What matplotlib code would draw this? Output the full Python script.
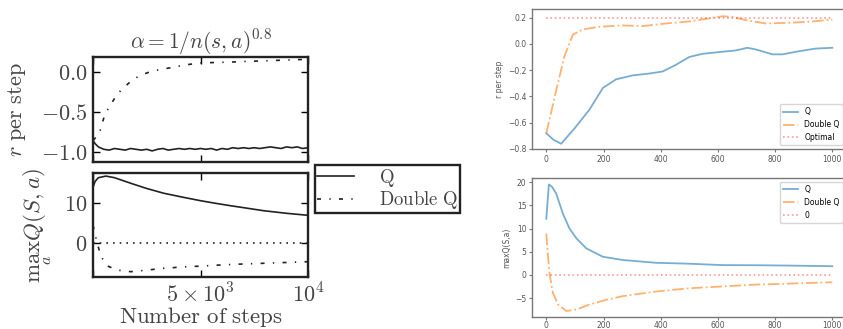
import matplotlib
matplotlib.use("Agg")
import matplotlib.pyplot as plt
from matplotlib.lines import Line2D

plt.rcParams['mathtext.fontset'] = 'cm'

# ---------------- data: left panel (x = number of steps) ----------------
lt_q_x = [0, 100, 250, 500, 750, 1000, 1250, 1500, 1750, 2000, 2250, 2500, 2750, 3000,
          3250, 3500, 3750, 4000, 4250, 4500, 4750, 5000, 5250, 5500, 5750, 6000, 6250,
          6500, 6750, 7000, 7250, 7500, 7750, 8000, 8250, 8500, 8750, 9000, 9250, 9500,
          9750, 10000]
lt_q_y = [-0.86, -0.90, -0.94, -0.97, -0.98, -0.96, -0.97, -0.98, -0.96, -0.97, -0.98,
          -0.97, -0.99, -0.97, -0.96, -0.98, -0.97, -0.96, -0.97, -0.96, -0.97, -0.96,
          -0.97, -0.96, -0.98, -0.96, -0.97, -0.95, -0.96, -0.95, -0.96, -0.95, -0.96,
          -0.95, -0.94, -0.95, -0.96, -0.94, -0.95, -0.94, -0.96, -0.95]
lt_dq_x = [0, 100, 290, 525, 750, 990, 1300, 1760, 2100, 2530, 3000, 3610, 4300, 5000,
           5700, 6390, 7200, 7920, 8900, 10000]
lt_dq_y = [-0.86, -0.83, -0.775, -0.557, -0.44, -0.34, -0.23, -0.12, -0.06, -0.013, 0.02,
           0.05, 0.085, 0.11, 0.115, 0.12, 0.13, 0.135, 0.145, 0.155]

lb_q_x = [0, 100, 250, 600, 1000, 1760, 2500, 3300, 4200, 5000, 5700, 6390, 7200, 7930,
          9000, 10000]
lb_q_y = [14.0, 15.5, 16.4, 16.8, 16.4, 15.0, 13.7, 12.5, 11.5, 10.65, 10.0, 9.4, 8.75,
          8.15, 7.5, 7.0]
lb_dq_x = [0, 150, 370, 680, 1140, 1760, 2500, 3290, 4200, 5000, 6000, 6850, 8700, 10000]
lb_dq_y = [4.5, 1.0, -3.3, -5.7, -6.7, -7.1, -6.7, -6.25, -5.9, -5.7, -5.4, -5.2, -4.85,
           -4.6]
lb_zero_x = [0, 10000]
lb_zero_y = [0, 0]

left_labels = [r'$\mathrm{Q}$', r'$\mathrm{Double\ Q}$']
left_xticks = [0, 5000, 10000]
left_xticklabels = ['', r'$5\times10^3$', r'$10^4$']

# ---------------- data: right panel (x = episode) ----------------
rt_q_x = [0, 25, 52, 100, 151, 198, 244, 302, 360, 407, 453, 500, 546, 616, 663, 703, 733,
          791, 826, 884, 942, 1000]
rt_q_y = [-0.68, -0.73, -0.76, -0.64, -0.50, -0.335, -0.27, -0.24, -0.226, -0.21, -0.16,
          -0.10, -0.076, -0.06, -0.05, -0.03, -0.043, -0.08, -0.08, -0.056, -0.036, -0.03]
rt_dq_x = [0, 35, 64, 93, 128, 186, 267, 337, 419, 500, 558, 616, 651, 698, 767, 849, 930,
           1000]
rt_dq_y = [-0.68, -0.35, -0.09, 0.07, 0.11, 0.13, 0.14, 0.135, 0.155, 0.17, 0.19, 0.21,
           0.205, 0.18, 0.155, 0.16, 0.17, 0.185]
rt_opt_x = [0, 1000]
rt_opt_y = [0.2, 0.2]

rb_q_x = [0, 9, 20, 35, 58, 81, 105, 140, 198, 267, 384, 500, 616, 733, 849, 1000]
rb_q_y = [12.1, 19.5, 19.0, 17.5, 13.2, 10.0, 7.9, 5.7, 3.9, 3.2, 2.6, 2.4, 2.1, 2.07, 2.0,
          1.86]
rb_dq_x = [0, 6, 12, 23, 41, 70, 105, 151, 209, 267, 384, 500, 616, 733, 849, 1000]
rb_dq_y = [8.9, 3.9, 0, -3.9, -6.4, -7.8, -7.5, -6.4, -5.4, -4.6, -3.6, -2.9, -2.5, -2.1,
           -1.9, -1.6]
rb_zero_x = [0, 1000]
rb_zero_y = [0, 0]

right_top_labels = ['Q', 'Double Q', 'Optimal']
right_bot_labels = ['Q', 'Double Q', '0']
right_xticks = [0, 200, 400, 600, 800, 1000]

# ---------------- figure ----------------
W, H = 843, 329
fig = plt.figure(figsize=(W / 100, H / 100), dpi=100)

def frac(x0, y0, x1, y1):
    return [x0 / W, 1 - y1 / H, (x1 - x0) / W, (y1 - y0) / H]

ax_lt = fig.add_axes(frac(93, 57.3, 308, 161.7))
ax_lb = fig.add_axes(frac(93, 173.3, 308, 277.3))
ax_rt = fig.add_axes(frac(532, 9, 846.6, 149))
ax_rb = fig.add_axes(frac(532, 178, 846.6, 317))

dashdot = (0, (2.4, 5.0, 0.8, 5.0))
dotted = (0, (1, 3))
LW = 1.2
TXT = '#444444'

# left top
ax_lt.plot(lt_q_x, lt_q_y, color='#222222', lw=LW)
ax_lt.plot(lt_dq_x, lt_dq_y, color='#222222', lw=LW, linestyle=dashdot)
ax_lt.set_xlim(0, 10000)
ax_lt.set_ylim(-1.125, 0.18)
ax_lt.set_yticks([0.0, -0.5, -1.0])
ax_lt.set_yticklabels([r'$0.0$', r'$-0.5$', r'$-1.0$'])
ax_lt.set_xticks(left_xticks)
ax_lt.set_xticklabels([])
ax_lt.set_title(r'$\alpha = 1/n(s,a)^{0.8}$', fontsize=15.5, pad=4, color=TXT)
ax_lt.set_ylabel(r'$r\ \mathrm{per\ step}$', fontsize=16, color=TXT)
ax_lt.yaxis.set_label_coords(-0.30, 0.5)

# left bottom
ax_lb.plot(lb_q_x, lb_q_y, color='#222222', lw=LW)
ax_lb.plot(lb_dq_x, lb_dq_y, color='#222222', lw=LW, linestyle=dashdot)
ax_lb.plot(lb_zero_x, lb_zero_y, color='#222222', lw=LW, linestyle=dotted)
ax_lb.set_xlim(0, 10000)
ax_lb.set_ylim(-8.5, 17.5)
ax_lb.set_yticks([0, 10])
ax_lb.set_yticklabels([r'$0$', r'$10$'])
ax_lb.set_xticks(left_xticks)
ax_lb.set_xticklabels(left_xticklabels)
ax_lb.set_xlabel(r'$\mathrm{Number\ of\ steps}$', fontsize=16.5, color=TXT, labelpad=-1)
ax_lb.set_ylabel(r'$\max_a Q(S,a)$', fontsize=16.5, color=TXT)
ax_lb.yaxis.set_label_coords(-0.18, 0.5)

for ax in (ax_lt, ax_lb):
    for s in ax.spines.values():
        s.set_linewidth(1.7)
        s.set_color('#222222')
    ax.tick_params(direction='in', top=True, right=True, length=5, width=1,
                   labelsize=16, labelcolor=TXT, pad=4)

handles = [Line2D([], [], color='#222222', lw=LW),
           Line2D([], [], color='#222222', lw=LW, linestyle=dashdot)]
leg = fig.legend(handles, left_labels, loc='upper left',
                 bbox_to_anchor=(315 / W, 1 - 165 / H), fontsize=13.5,
                 fancybox=False, framealpha=1, edgecolor='#222222',
                 handlelength=2.0, handletextpad=1.3, borderpad=0.1,
                 labelspacing=0.02, borderaxespad=0)
leg.get_frame().set_linewidth(1.7)
for t in leg.get_texts():
    t.set_color(TXT)

# right top
ax_rt.plot(rt_q_x, rt_q_y, color='#1f77b4', lw=1.3, alpha=0.6, label=right_top_labels[0])
ax_rt.plot(rt_dq_x, rt_dq_y, color='#ff7f0e', lw=1.3, alpha=0.6, linestyle='-.',
           label=right_top_labels[1])
ax_rt.plot(rt_opt_x, rt_opt_y, color='red', lw=1.2, alpha=0.4, linestyle=':',
           label=right_top_labels[2])
ax_rt.set_xlim(-50, 1050)
ax_rt.set_ylim(-0.8, 0.265)
ax_rt.set_yticks([-0.8, -0.6, -0.4, -0.2, 0.0, 0.2])
ax_rt.set_xticks(right_xticks)
ax_rt.set_ylabel('r per step', fontsize=5.5, color='#555555', labelpad=3)
ax_rt.legend(loc='lower right', fontsize=5.5)

# right bottom
ax_rb.plot(rb_q_x, rb_q_y, color='#1f77b4', lw=1.3, alpha=0.6, label=right_bot_labels[0])
ax_rb.plot(rb_dq_x, rb_dq_y, color='#ff7f0e', lw=1.3, alpha=0.6, linestyle='-.',
           label=right_bot_labels[1])
ax_rb.plot(rb_zero_x, rb_zero_y, color='red', lw=1.2, alpha=0.4, linestyle=':',
           label=right_bot_labels[2])
ax_rb.set_xlim(-50, 1050)
ax_rb.set_ylim(-9.1, 20.9)
ax_rb.set_yticks([-5, 0, 5, 10, 15, 20])
ax_rb.set_xticks(right_xticks)
ax_rb.set_ylabel('maxQ(S,a)', fontsize=5.5, color='#555555', labelpad=3)
ax_rb.legend(loc='upper right', fontsize=5.5)

for ax in (ax_rt, ax_rb):
    for s in ax.spines.values():
        s.set_linewidth(1.0)
        s.set_color('#777777')
    ax.tick_params(length=2.5, width=0.8, color='#777777', labelsize=5.5,
                   labelcolor='#555555', pad=1.5)
ax_rb.tick_params(axis='x', pad=0.5)

fig.savefig('out.png', dpi=100)
